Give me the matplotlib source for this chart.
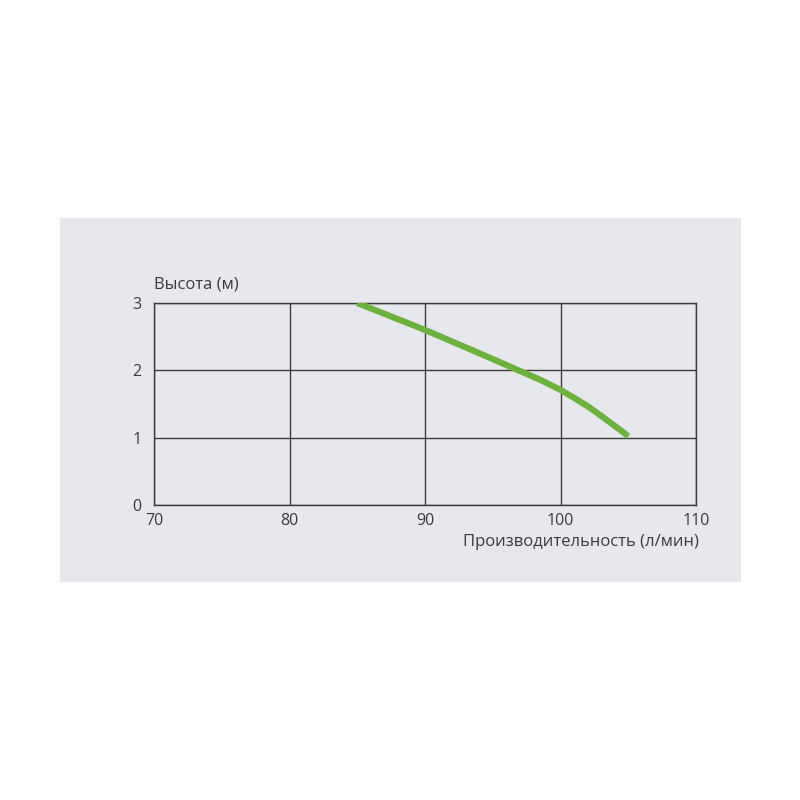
import matplotlib
matplotlib.use("Agg")
import matplotlib.pyplot as plt
from matplotlib.patches import Rectangle

flow = [85.0, 87.5, 90.0, 92.2, 94.4, 96.9, 98.5, 100.0, 101.1, 102.2, 103.1, 103.9, 104.5, 105.0]
head = [3.0, 2.80, 2.60, 2.41, 2.22, 2.00, 1.86, 1.71, 1.58, 1.44, 1.31, 1.19, 1.10, 1.02]
xticks = [70, 80, 90, 100, 110]
yticks = [0, 1, 2, 3]

plt.rcParams['font.family'] = ['Open Sans', 'DejaVu Sans']
fig = plt.figure(figsize=(8, 8), dpi=100)
fig.patch.set_facecolor('white')
fig.patches.append(Rectangle((60/800, 1-582/800), 681/800, 364/800,
                             transform=fig.transFigure, facecolor='#e7e7ee',
                             edgecolor='none', zorder=-10))

ax = fig.add_axes([154/800, 1-505/800, 542/800, 202/800])
ax.set_zorder(1)
ax.set_facecolor('none')
ax.plot(flow, head, color='#6cb33e', lw=4.5, solid_capstyle='butt',
        solid_joinstyle='round', zorder=3)
ax.set_xlim(70, 110)
ax.set_ylim(0, 3)
ax.set_xticks(xticks)
ax.set_yticks(yticks)
ax.grid(True, color='#3a3a3a', lw=1.0)
for s in ax.spines.values():
    s.set_color('#3a3a3a')
    s.set_linewidth(1.0)
ax.tick_params(length=0, labelsize=11.5, colors='#3a3a3a', pad=9)
ax.tick_params(axis='x', pad=6)
ax.text(0.0, 1.05, 'Высота (м)', transform=ax.transAxes, ha='left', va='bottom',
        fontsize=12, color='#3a3a3a')
ax.text(1.005, -0.145, 'Производительность (л/мин)', transform=ax.transAxes,
        ha='right', va='top', fontsize=12, color='#3a3a3a')

fig.savefig('out.png', dpi=100)
